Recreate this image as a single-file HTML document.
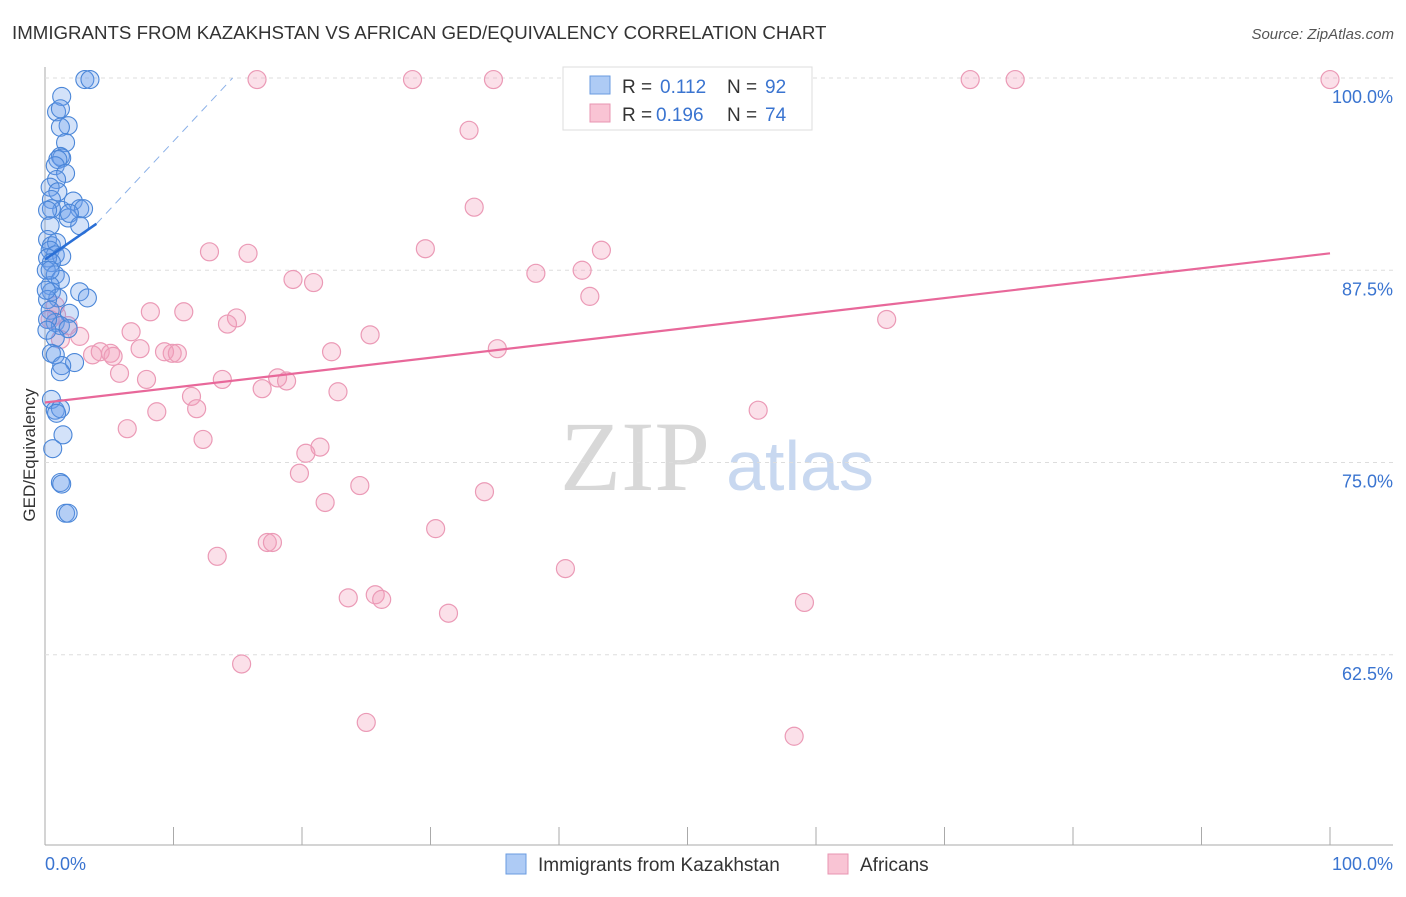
<!DOCTYPE html>
<html><head><meta charset="utf-8"><style>
body{margin:0;background:#fff;font-family:"Liberation Sans",sans-serif;}
</style></head><body>
<svg width="1406" height="892" xmlns="http://www.w3.org/2000/svg" id="chart">
<text x="12" y="39" font-size="18.7" fill="#333">IMMIGRANTS FROM KAZAKHSTAN VS AFRICAN GED/EQUIVALENCY CORRELATION CHART</text>
<text x="1394" y="39" font-size="15" fill="#555" font-style="italic" text-anchor="end">Source: ZipAtlas.com</text>
<text x="635" y="490" font-size="100" fill="#d8d8d8" font-family="Liberation Serif,serif" text-anchor="middle">ZIP</text>
<text x="800" y="490" font-size="70" fill="#c8d8f0" text-anchor="middle">atlas</text>
<g id="grid"></g><g id="marks"></g>
<text transform="translate(35,455) rotate(-90)" font-size="17" fill="#333" text-anchor="middle">GED/Equivalency</text>
<g>
<rect x="563" y="67" width="249" height="63" fill="#fff" stroke="#ddd"/>
<rect x="590" y="76" width="20" height="18" fill="#aecbf5" stroke="#6a9be0"/>
<text x="622" y="93" font-size="19" fill="#333">R =</text>
<text x="660" y="93" font-size="19" fill="#3a74d0">0.112</text>
<text x="727" y="93" font-size="19" fill="#333">N =</text>
<text x="765" y="93" font-size="19" fill="#3a74d0">92</text>
<rect x="590" y="104" width="20" height="18" fill="#f9c4d4" stroke="#e895b2"/>
<text x="622" y="121" font-size="19" fill="#333">R =</text>
<text x="656" y="121" font-size="19" fill="#3a74d0">0.196</text>
<text x="727" y="121" font-size="19" fill="#333">N =</text>
<text x="765" y="121" font-size="19" fill="#3a74d0">74</text>
</g>
<g>
<rect x="506" y="854" width="20" height="20" fill="#aecbf5" stroke="#6a9be0"/>
<text x="538" y="871" font-size="19" fill="#333">Immigrants from Kazakhstan</text>
<rect x="828" y="854" width="20" height="20" fill="#f9c4d4" stroke="#e895b2"/>
<text x="860" y="871" font-size="19" fill="#333">Africans</text>
</g>
</svg>
<script>
const blueX=[3.1,3.5,1.3,0.9,1.2,1.8,1.2,1.6,1.2,1.3,1.0,0.8,1.6,0.9,0.4,1.0,0.5,1.3,0.5,0.2,2.2,2.7,3.0,1.8,1.9,2.7,0.4,0.2,0.5,0.9,0.4,0.8,1.3,0.2,0.5,0.1,0.8,1.2,0.4,0.5,1.0,2.7,3.3,1.9,0.2,0.4,0.8,1.2,1.8,0.8,0.5,0.8,2.3,1.3,1.2,0.5,0.8,1.2,0.9,1.4,0.6,1.2,1.3,1.6,1.8,0.2,0.15,0.1,0.4];
const blueY=[99.9,99.9,98.8,97.8,98.0,96.9,96.8,95.8,94.9,94.8,94.7,94.3,93.8,93.4,92.9,92.6,92.1,91.4,91.5,91.4,92.0,91.5,91.5,90.9,91.2,90.4,90.4,89.5,89.1,89.3,88.8,88.5,88.4,88.3,88.0,87.5,87.2,86.9,86.5,86.1,85.7,86.1,85.7,84.7,85.6,84.9,84.1,83.9,83.7,83.1,82.1,82.0,81.5,81.3,80.9,79.1,78.4,78.5,78.2,76.8,75.9,73.7,73.6,71.7,71.7,84.3,83.6,86.2,87.5];
const pinkX=[16.5,28.6,34.9,52.4,72.0,75.5,100,33.0,33.4,12.8,15.8,29.6,43.3,38.2,41.8,19.3,20.9,42.4,8.2,10.8,14.9,14.2,65.5,6.7,25.3,2.7,1.8,0.9,1.2,3.7,4.3,5.1,5.3,7.4,9.9,9.3,10.3,22.3,35.2,5.8,7.9,13.8,16.9,18.1,18.8,22.8,11.4,11.8,8.7,55.5,6.4,12.3,21.4,20.3,19.8,24.5,34.2,21.8,30.4,17.3,17.7,13.4,40.5,25.7,23.6,26.2,31.4,59.1,15.3,25.0,58.3,0.8,0.4];
const pinkY=[99.9,99.9,99.9,99.9,99.9,99.9,99.9,96.6,91.6,88.7,88.6,88.9,88.8,87.3,87.5,86.9,86.7,85.8,84.8,84.8,84.4,84.0,84.3,83.5,83.3,83.2,83.9,84.6,83.0,82.0,82.2,82.1,81.9,82.4,82.1,82.2,82.1,82.2,82.4,80.8,80.4,80.4,79.8,80.5,80.3,79.6,79.3,78.5,78.3,78.4,77.2,76.5,76.0,75.6,74.3,73.5,73.1,72.4,70.7,69.8,69.8,68.9,68.1,66.4,66.2,66.1,65.2,65.9,61.9,58.1,57.2,85.2,84.3];
const blueTrend=[88.2,0.58];
const blueDashEnd=[14.6,100];
const pinkTrend=[78.9,0.097];
const yTicks=[100,87.5,75,62.5];
const xTicks=[0,10,20,30,40,50,60,70,80,90,100];
const NS='http://www.w3.org/2000/svg';
const sx=v=>45+v*12.85, sy=v=>78+(100-v)*15.38;
const svg=document.getElementById('chart'),grid=document.getElementById('grid'),marks=document.getElementById('marks');
function mk(tag,at,parent){const e=document.createElementNS(NS,tag);for(const k in at)e.setAttribute(k,at[k]);parent.appendChild(e);return e;}
let l=mk('line',{x1:45,y1:67,x2:45,y2:845,stroke:'#aaa'},grid);


l=mk('line',{x1:45,y1:845,x2:1393,y2:845,stroke:'#aaa'},grid);


yTicks.forEach(v=>{
 const g=mk('line',{x1:45,x2:1393,y1:sy(v),y2:sy(v),stroke:'#ddd','stroke-dasharray':'4,4'},grid);
 
 
 const t=mk('text',{x:1393,y:sy(v)+25,'font-size':18,fill:'#3a74d0','text-anchor':'end'},grid);
 t.textContent=v.toFixed(1)+'%';
 
 
});
xTicks.forEach(v=>{
 const g=mk('line',{x1:sx(v),x2:sx(v),y1:827,y2:845,stroke:'#aaa'},grid);
 
 
});
[[0,'0.0%',45,'start'],[100,'100.0%',1393,'end']].forEach(a=>{
 const t=mk('text',{x:a[2],y:870,'font-size':18,fill:'#3a74d0','text-anchor':a[3]},grid);
 t.textContent=a[1];
 
 
});
pinkX.forEach((x,i)=>{
 const c=mk('circle',{cx:sx(x),cy:sy(pinkY[i]),r:9,fill:'rgba(244,160,188,0.32)',stroke:'#eb9ab6','stroke-width':1.2},marks);
 
 
});
blueX.forEach((x,i)=>{
 const c=mk('circle',{cx:sx(x),cy:sy(blueY[i]),r:9,fill:'rgba(110,160,235,0.3)',stroke:'#4a86d8','stroke-width':1.1},marks);
 
 
});
let t=mk('line',{x1:sx(0),y1:sy(pinkTrend[0]),x2:sx(100),y2:sy(pinkTrend[0]+100*pinkTrend[1]),stroke:'#e8689a','stroke-width':2.2},marks);


t=mk('line',{x1:sx(4),y1:sy(blueTrend[0]+4*blueTrend[1]),x2:sx(blueDashEnd[0]),y2:sy(blueDashEnd[1]),stroke:'#8ab0e8','stroke-width':1,'stroke-dasharray':'8,6'},marks);


t=mk('line',{x1:sx(0),y1:sy(blueTrend[0]),x2:sx(4),y2:sy(blueTrend[0]+4*blueTrend[1]),stroke:'#2a6fd6','stroke-width':2.5},marks);


</script>
</body></html>
